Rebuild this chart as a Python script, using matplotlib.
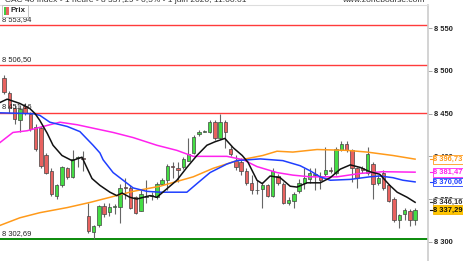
import numpy as np
import matplotlib.pyplot as plt
from matplotlib.patches import Rectangle

# hourly candles
opens = [8492, 8474, 8457, 8442, 8459, 8450, 8434, 8433, 8401, 8383,
         8354, 8366, 8386, 8376, 8398, 8398, 8330, 8311, 8319, 8342,
         8335, 8341, 8341, 8364, 8363, 8352, 8336, 8352, 8354, 8352,
         8368, 8372, 8389, 8386, 8387, 8395, 8404, 8426, 8429, 8428,
         8440, 8422, 8440, 8409, 8395, 8393, 8383, 8369, 8361, 8362,
         8366, 8354, 8377, 8368, 8345, 8348, 8359, 8369, 8374, 8378,
         8376, 8379, 8384, 8380, 8408, 8415, 8407, 8386, 8386, 8380,
         8391, 8369, 8381, 8366, 8350, 8325, 8333, 8336, 8325]
highs = [8495, 8477, 8460, 8460, 8462, 8452, 8438, 8436, 8404, 8386,
         8368, 8389, 8388, 8407, 8400, 8406, 8345, 8320, 8343, 8345,
         8345, 8344, 8368, 8375, 8366, 8354, 8360, 8372, 8358, 8370,
         8375, 8391, 8393, 8393, 8399, 8422, 8425, 8431, 8431, 8442,
         8442, 8450, 8442, 8412, 8402, 8398, 8386, 8378, 8372, 8370,
         8368, 8386, 8379, 8370, 8352, 8358, 8374, 8386, 8386, 8386,
         8382, 8411, 8388, 8411, 8418, 8418, 8409, 8388, 8389, 8411,
         8393, 8378, 8384, 8368, 8352, 8333, 8339, 8338, 8339]
lows = [8473, 8451, 8438, 8428, 8449, 8430, 8406, 8386, 8379, 8353,
        8350, 8364, 8374, 8375, 8387, 8383, 8310, 8303, 8317, 8329,
        8330, 8333, 8322, 8350, 8338, 8332, 8336, 8345, 8349, 8350,
        8366, 8360, 8375, 8370, 8385, 8395, 8403, 8424, 8428, 8427,
        8419, 8420, 8410, 8400, 8384, 8378, 8367, 8356, 8356, 8340,
        8352, 8352, 8367, 8344, 8343, 8340, 8357, 8362, 8369, 8360,
        8362, 8377, 8380, 8378, 8406, 8405, 8370, 8363, 8380, 8378,
        8350, 8366, 8360, 8346, 8323, 8316, 8325, 8318, 8320]
closes = [8475, 8457, 8444, 8456, 8451, 8432, 8409, 8389, 8381, 8356,
          8366, 8387, 8376, 8397, 8399, 8397, 8313, 8318, 8342, 8333,
          8341, 8341, 8363, 8363, 8339, 8334, 8356, 8352, 8354, 8368,
          8372, 8389, 8388, 8384, 8397, 8403, 8423, 8429, 8430, 8440,
          8421, 8440, 8428, 8403, 8387, 8383, 8369, 8360, 8360, 8366,
          8354, 8383, 8369, 8345, 8349, 8356, 8369, 8375, 8380, 8379,
          8372, 8384, 8383, 8409, 8415, 8407, 8386, 8375, 8384, 8403,
          8368, 8375, 8363, 8348, 8325, 8331, 8337, 8325, 8337.29]

# moving averages sampled along the chart (candle index, value)
black_idx = [-0.8, 0.6, 3.0, 4.9, 5.9, 6.8, 8.2, 9.3, 11.0, 12.9, 14.8, 15.7, 16.7, 18.2,
             20.1, 21.4, 22.4, 23.9, 25.2, 27.7, 29.0, 30.9, 32.8, 34.7, 36.6, 38.5,
             40.0, 41.9, 43.5, 45.2, 46.3, 48.0, 49.0, 50.5, 52.4, 54.3, 55.6, 57.5,
             60.0, 61.9, 63.8, 65.7, 67.6, 69.4, 71.3, 73.2, 74.6, 76.5, 78.0]
black_val = [8463, 8467, 8462, 8456, 8450, 8442, 8427, 8413, 8401, 8395, 8399, 8387, 8374, 8366,
             8358, 8354, 8357, 8352, 8350, 8354, 8352, 8362, 8372, 8387, 8401, 8413,
             8417, 8421, 8410, 8401, 8393, 8372, 8368, 8377, 8375, 8365, 8364, 8369,
             8369, 8375, 8385, 8390, 8387, 8382, 8379, 8366, 8358, 8352, 8346.16]
blue_idx = [-0.8, 5.5, 6.8, 8.7, 12.0, 14.4, 16.9, 18.2, 18.8, 20.7, 22.6, 24.5, 27.1,
            29.6, 34.7, 36.6, 39.1, 42.3, 44.2, 48.6, 52.9, 56.2, 58.1, 60.0, 61.9,
            65.7, 69.4, 71.3, 73.8, 75.7, 78.0]
blue_val = [8451, 8450, 8448, 8440, 8435, 8429, 8413, 8404, 8396, 8381, 8372, 8363, 8359,
            8358, 8358, 8368, 8381, 8391, 8395, 8397, 8395, 8389, 8383, 8376, 8372,
            8373, 8376, 8377, 8375, 8372, 8370.06]
magenta_idx = [-0.8, 1.7, 4.4, 6.8, 10.6, 13.9, 16.9, 20.7, 24.5, 29.0, 32.8, 35.9,
               42.3, 45.4, 48.0, 51.8, 54.8, 58.1, 63.2, 67.6, 71.9, 78.0]
magenta_val = [8416, 8428, 8430, 8434, 8440, 8437, 8433, 8428, 8422, 8413, 8407, 8400,
               8400, 8396, 8388, 8381, 8378, 8376, 8376, 8380, 8382, 8381.47]
orange_idx = [-0.8, 3.0, 6.8, 12.0, 16.3, 20.1, 24.5, 29.6, 35.9, 39.7, 44.2, 49.1,
              51.8, 54.8, 59.4, 65.1, 68.9, 73.8, 78.0]
orange_val = [8319, 8328, 8334, 8340, 8346, 8352, 8359, 8365, 8376, 8386, 8395, 8401,
              8406, 8405, 8408, 8407, 8405, 8401, 8396.73]

levels_red = [8553.94, 8506.50, 8451.16]
level_green = 8302.69
yticks = [8300, 8350, 8400, 8450, 8500, 8550]

def fr(v, dec=2):
    s = f"{v:,.{dec}f}".replace(",", " ").replace(".", ",")
    return s

plt.rcParams['font.family'] = ['Liberation Sans', 'DejaVu Sans']
FS = 5.4

fig = plt.figure(figsize=(4.64, 2.61), dpi=100)
ax = fig.add_axes([0, 0, 428 / 464, 256 / 261])
ax.set_xlim(-0.76, 80.45)
ax.set_ylim(8277.4, 8577.3)

for v in levels_red:
    ax.axhline(v, color='#ff3b3b', lw=1.0, zorder=1)
ax.axhline(level_green, color='#0a8a0a', lw=1.4, zorder=1)

x = np.arange(len(closes))
for i in x:
    o, h, l, c = opens[i], highs[i], lows[i], closes[i]
    up = c >= o
    ax.vlines(i, l, h, color='#666666', lw=0.8, zorder=2)
    lo, hi = min(o, c), max(o, c)
    if hi - lo < 1.0:
        hi = lo + 1.0
    ax.add_patch(Rectangle((i - 0.32, lo), 0.64, hi - lo,
                           facecolor='#44dd44' if up else '#e8625f',
                           edgecolor='#444444', lw=0.5, zorder=3))

ax.plot(orange_idx, orange_val, color='#ff9a1a', lw=1.1, zorder=4)
ax.plot(magenta_idx, magenta_val, color='#ff22ee', lw=1.1, zorder=4)
ax.plot(blue_idx, blue_val, color='#1f3fff', lw=1.1, zorder=4)
ax.plot(black_idx, black_val, color='#111111', lw=1.1, zorder=5)

# left level labels
for v in levels_red + [level_green]:
    ax.text(-0.45, v + 2.5, fr(v), fontsize=FS, color='#222222', va='bottom', ha='left', zorder=6)

# right axis
ax.yaxis.tick_right()
ax.set_yticks(yticks)
ax.set_yticklabels([fr(t, 0) for t in yticks])
ax.tick_params(axis='y', length=3, width=0.6, color='#999999', labelsize=FS,
               labelcolor='#222222', pad=1.0)
for lab in ax.get_yticklabels():
    lab.set_fontweight('bold')
ax.set_xticks([])
for s in ['left', 'bottom']:
    ax.spines[s].set_visible(False)
ax.spines['right'].set_color('#cccccc')
ax.spines['top'].set_color('#dddddd')
ax.spines['right'].set_linewidth(1.2)

# value boxes at the right
boxes = [(orange_val[-1], '#ff9a1a', '#ff9a1a', 'white'),
         (magenta_val[-1], '#ff22ee', '#ff22ee', 'white'),
         (blue_val[-1], '#1f3fff', '#1f3fff', 'white'),
         (black_val[-1], '#333333', '#999999', 'white'),
         (closes[-1], '#111111', '#f5b400', '#ffc600')]
for v, tc, ec, fc in boxes:
    ax.annotate(fr(v), xy=(1.0, v), xycoords=('axes fraction', 'data'),
                xytext=(3.9, 0), textcoords='offset points', va='center', ha='left',
                fontsize=FS, fontweight='bold', color=tc, annotation_clip=False, zorder=10,
                bbox=dict(boxstyle='square,pad=0.12', fc=fc, ec=ec, lw=0.6))
    ax.plot([1.004, 1.009], [v, v], transform=ax.get_yaxis_transform(), color=tc, lw=0.8,
            clip_on=False, zorder=9)

# legend box "Prix"
fig.patches.append(Rectangle((2 / 464, 1 - 17 / 261), 26 / 464, 12 / 261, transform=fig.transFigure,
                             facecolor='white', edgecolor='#bbbbbb', lw=0.6, zorder=20))
fig.patches.append(Rectangle((4 / 464, 1 - 14.5 / 261), 2.5 / 464, 7 / 261, transform=fig.transFigure,
                             facecolor='#44cc44', edgecolor='none', zorder=21))
fig.patches.append(Rectangle((6.5 / 464, 1 - 14.5 / 261), 3 / 464, 7 / 261, transform=fig.transFigure,
                             facecolor='#e8625f', edgecolor='none', zorder=21))
fig.text(11 / 464, 1 - 11 / 261, 'Prix', fontsize=FS + 0.3, fontweight='bold', color='#222222',
         va='center', ha='left', zorder=22)

# clipped header
fig.text(0.01, 1.0, 'CAC 40 Index - 1 heure - 8 337,29 - 0,5% - 1 juin 2020, 11:00:01',
         fontsize=6, color='#333333', va='center', ha='left')
fig.text(0.915, 1.0, 'www.zonebourse.com', fontsize=6, color='#333333', va='center', ha='right')

fig.savefig('out.png', dpi=100, facecolor='white')
